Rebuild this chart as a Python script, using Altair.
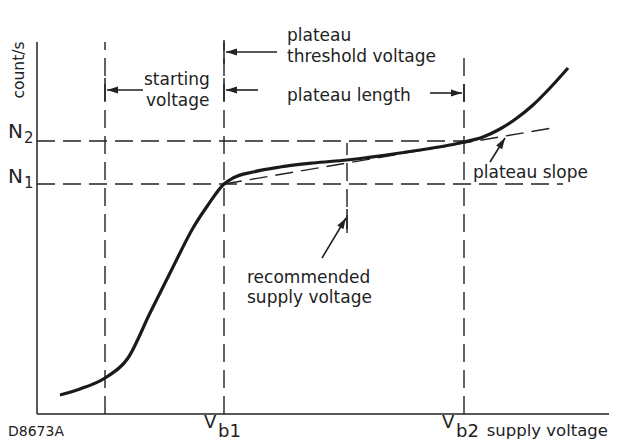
import math
import altair as alt
import pandas as pd

# ---- data (arbitrary supply-voltage units, arbitrary count-rate units) ----
curve_voltage = [23, 43, 68, 91, 113, 136, 156, 171, 187, 196, 216, 243, 276, 310,
                 363, 427, 446, 463, 480, 496, 513, 531]
curve_count = [19, 25, 36, 56, 101, 147, 186, 209, 230, 236, 242, 247, 251, 254,
               261, 272, 277, 285, 296, 309, 326, 346]

V_START, V_B1, V_REC, V_B2 = 68, 187, 310, 427
N1, N2 = 230, 273
V_MAX, N_MAX = 580, 372
slope_from = (187, 230)
slope_to = (515, 286)

INK = "#222222"
FONT = "DejaVu Sans"

xs = alt.Scale(domain=[-29, 572], nice=False, zero=False)
ys = alt.Scale(domain=[-26, 406], nice=False, zero=False)

def X(f="x"):
    return alt.X(f"{f}:Q", scale=xs, axis=None)

def Y(f="y"):
    return alt.Y(f"{f}:Q", scale=ys, axis=None)

# dashed guide lines
dashed = pd.DataFrame([
    dict(x=V_START, y=0, x2=V_START, y2=N_MAX),
    dict(x=V_B1, y=0, x2=V_B1, y2=N_MAX),
    dict(x=V_REC, y=181, x2=V_REC, y2=N2 - 2),
    dict(x=V_B2, y=0, x2=V_B2, y2=362),
    dict(x=0, y=N2, x2=V_B2, y2=N2),
    dict(x=0, y=N1, x2=526, y2=N1),
    dict(x=slope_from[0], y=slope_from[1], x2=slope_to[0], y2=slope_to[1]),
])

# arrows: from -> to (tip)
arrows = pd.DataFrame([
    dict(x=106, y=324, x2=V_START + 2, y2=324),
    dict(x=240, y=362, x2=V_B1 + 2, y2=362),
    dict(x=221, y=324, x2=V_B1 + 2, y2=324),
    dict(x=393, y=321, x2=V_B2 - 2, y2=321),
    dict(x=285, y=156, x2=V_REC - 1, y2=196),
    dict(x=453, y=252, x2=468, y2=276),
])
arrows["angle"] = [
    (math.degrees(math.atan2(r.x2 - r.x, r.y2 - r.y)) + 360) % 360
    for r in arrows.itertuples()
]

# solid lines: axes and small ticks where arrows meet guide lines
solid = pd.DataFrame([
    dict(x=0, y=0, x2=0, y2=N_MAX),
    dict(x=0, y=0, x2=V_MAX, y2=0),
    dict(x=V_START, y=313, x2=V_START, y2=336),
    dict(x=V_B1, y=350, x2=V_B1, y2=374),
    dict(x=V_B1, y=313, x2=V_B1, y2=336),
    dict(x=V_B2, y=312, x2=V_B2, y2=330),
    dict(x=V_REC, y=185, x2=V_REC, y2=205),
])

labels = pd.DataFrame([
    dict(t="starting", x=107, y=329, s=17, a="left"),
    dict(t="voltage", x=109, y=308, s=17, a="left"),
    dict(t="plateau", x=250, y=373, s=17, a="left"),
    dict(t="threshold voltage", x=250, y=352, s=17, a="left"),
    dict(t="plateau length", x=250, y=313, s=17, a="left"),
    dict(t="recommended", x=210, y=131, s=17, a="left"),
    dict(t="supply voltage", x=210, y=111, s=17, a="left"),
    dict(t="plateau slope", x=436, y=236, s=17, a="left"),
    dict(t="supply voltage", x=571, y=-22, s=16.5, a="right"),
    dict(t="V", x=405, y=-14, s=18, a="left"),
    dict(t="b2", x=419, y=-23, s=18, a="left"),
    dict(t="V", x=167, y=-14, s=18, a="left"),
    dict(t="b1", x=181, y=-23, s=18, a="left"),
    dict(t="N", x=-29, y=276, s=20, a="left"),
    dict(t="2", x=-13, y=271, s=15, a="left"),
    dict(t="N", x=-29, y=231, s=20, a="left"),
    dict(t="1", x=-13, y=226, s=15, a="left"),
    dict(t="D8673A", x=-29, y=-22, s=14, a="left"),
])

curve_df = pd.DataFrame({"v": curve_voltage, "n": curve_count})

dash_layer = alt.Chart(dashed).mark_rule(
    strokeDash=[18, 8], strokeWidth=1.4, color=INK
).encode(x=X(), y=Y(), x2="x2:Q", y2="y2:Q")

solid_layer = alt.Chart(solid).mark_rule(strokeWidth=1.5, color=INK).encode(
    x=X(), y=Y(), x2="x2:Q", y2="y2:Q"
)

shaft_layer = alt.Chart(arrows).mark_rule(strokeWidth=1.6, color=INK).encode(
    x=X(), y=Y(), x2="x2:Q", y2="y2:Q"
)

head_layer = alt.Chart(arrows).mark_point(
    shape="M0,0L0.65,2L-0.65,2Z", filled=True, opacity=1, size=121,
    color=INK, strokeWidth=0
).encode(x=X("x2"), y=Y("y2"), angle=alt.Angle("angle:Q", scale=None))

curve_layer = alt.Chart(curve_df).mark_line(
    interpolate="monotone", strokeWidth=3.2, color="#1a1a1a"
).encode(x=X("v"), y=Y("n"))

text_left = alt.Chart(labels[labels.a == "left"]).mark_text(
    font=FONT, align="left", baseline="alphabetic", color=INK
).encode(x=X(), y=Y(), text="t:N", size=alt.Size("s:Q", scale=None))

text_right = alt.Chart(labels[labels.a == "right"]).mark_text(
    font=FONT, align="right", baseline="alphabetic", color=INK
).encode(x=X(), y=Y(), text="t:N", size=alt.Size("s:Q", scale=None))

ylabel = alt.Chart(pd.DataFrame([dict(t="count/s", x=-13, y=344)])).mark_text(
    font=FONT, fontSize=15.5, angle=270, align="center", baseline="alphabetic", color=INK
).encode(x=X(), y=Y(), text="t:N")

chart = alt.layer(
    dash_layer, solid_layer, shaft_layer, head_layer, curve_layer,
    text_left, text_right, ylabel
).properties(
    width=601, height=432,
    autosize=alt.AutoSizeParams(type="none"),
    padding=0,
    background="white",
).configure_view(strokeWidth=0)

chart.save("out.html", embed_options={"renderer": "svg", "actions": False})
